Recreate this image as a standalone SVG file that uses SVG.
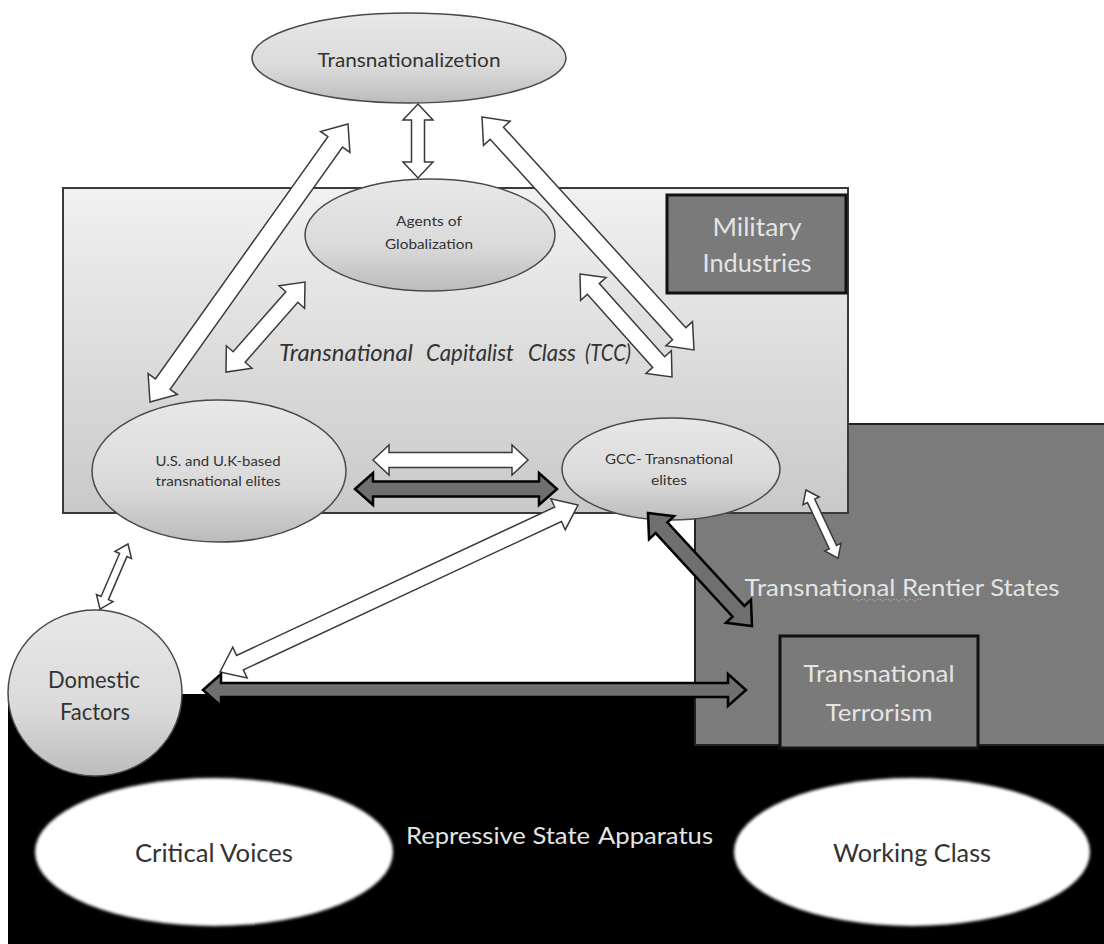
<svg xmlns="http://www.w3.org/2000/svg" width="1104" height="944" viewBox="0 0 1104 944">
<defs>
  <linearGradient id="gEll" x1="0" y1="0" x2="0" y2="1">
    <stop offset="0" stop-color="#e8e8e8"/>
    <stop offset="0.6" stop-color="#dadada"/>
    <stop offset="1" stop-color="#bcbcbc"/>
  </linearGradient>
  <linearGradient id="gBox" x1="0" y1="0" x2="0" y2="1">
    <stop offset="0" stop-color="#f1f1f1"/>
    <stop offset="1" stop-color="#c9c9c9"/>
  </linearGradient>
  <filter id="soft" x="-10%" y="-10%" width="120%" height="120%">
    <feGaussianBlur stdDeviation="1.5"/>
  </filter>
</defs>
<style>
  .ell { fill: url(#gEll); stroke: #4a4a4a; stroke-width: 1.5; }
  .dark { fill: #7a7a7a; stroke: #111; stroke-width: 3; }
  .wa { fill: #ffffff; stroke: #3a3a3a; stroke-width: 1.5; stroke-linejoin: miter; }
  .da { fill: #6f6f6f; stroke: #000; stroke-width: 2.5; stroke-linejoin: miter; }
  .t { font-family: Lato, "Open Sans", sans-serif; text-anchor: middle; }
  .ts { font-family: Lato, "Open Sans", sans-serif; text-anchor: start; }
  .dk { fill: #333; }
  .lt { fill: #e4e4e4; }
</style>

<rect width="1104" height="944" fill="#ffffff"/>

<!-- Repressive State Apparatus region -->
<g id="repressive-state">
  <rect x="8" y="694" width="1096" height="250" fill="#000"/>
  <text class="ts lt" x="406" y="844" font-size="24" textLength="184" lengthAdjust="spacingAndGlyphs">Repressive State</text>
  <text class="ts lt" x="598" y="844" font-size="24" textLength="115" lengthAdjust="spacingAndGlyphs">Apparatus</text>
</g>

<!-- Transnational Rentier States region -->
<g id="rentier-states">
  <rect x="695" y="424" width="411" height="321" fill="#7b7b7b" stroke="#222" stroke-width="2"/>
  <text class="t lt" x="902" y="596" font-size="24" textLength="315" lengthAdjust="spacingAndGlyphs">Transnational Rentier States</text>
  <path d="M853 600 q2 -2 4 0 t4 0 t4 0 t4 0 t4 0 t4 0 t4 0 t4 0 t4 0 t4 0 t4 0 t4 0 t4 0 t4 0 t4 0 t4 0 t4 0" fill="none" stroke="#b8b8c8" stroke-width="1" stroke-dasharray="1.5 1.5"/>
</g>

<!-- Transnational Terrorism -->
<g id="terrorism">
  <rect x="780" y="636" width="198" height="112" class="dark"/>
  <text class="t lt" x="879" y="682" font-size="24" textLength="151" lengthAdjust="spacingAndGlyphs">Transnational</text>
  <text class="t lt" x="879" y="721" font-size="24" textLength="107" lengthAdjust="spacingAndGlyphs">Terrorism</text>
</g>

<!-- TCC box -->
<g id="tcc">
  <rect x="63" y="188" width="785" height="325" fill="url(#gBox)" stroke="#3a3a3a" stroke-width="2"/>
  <text class="ts dk" x="279" y="361" font-size="24" font-style="italic" textLength="134" lengthAdjust="spacingAndGlyphs">Transnational</text>
  <text class="ts dk" x="426" y="361" font-size="24" font-style="italic" textLength="88" lengthAdjust="spacingAndGlyphs">Capitalist</text>
  <text class="ts dk" x="528" y="361" font-size="24" font-style="italic" textLength="48" lengthAdjust="spacingAndGlyphs">Class</text>
  <text class="ts dk" x="585" y="361" font-size="24" font-style="italic" textLength="46" lengthAdjust="spacingAndGlyphs">(TCC)</text>
</g>

<!-- Military Industries -->
<g id="military">
  <rect x="667" y="195" width="179" height="98" class="dark" fill="#767676"/>
  <text class="t lt" x="757" y="236" font-size="25" textLength="89" lengthAdjust="spacingAndGlyphs">Military</text>
  <text class="t lt" x="757" y="272" font-size="25" textLength="109" lengthAdjust="spacingAndGlyphs">Industries</text>
</g>

<!-- Transnationalizetion -->
<g id="transnationalizetion">
  <ellipse cx="409" cy="58" rx="157" ry="45" class="ell"/>
  <text class="t dk" x="409" y="67" font-size="20" textLength="183" lengthAdjust="spacingAndGlyphs">Transnationalizetion</text>
</g>

<!-- Agents of Globalization -->
<g id="agents">
  <ellipse cx="430" cy="235" rx="125" ry="56" class="ell"/>
  <text class="t dk" x="429" y="226" font-size="14" textLength="66" lengthAdjust="spacingAndGlyphs">Agents of</text>
  <text class="t dk" x="429" y="249" font-size="14" textLength="88" lengthAdjust="spacingAndGlyphs">Globalization</text>
</g>

<!-- U.S. and U.K-based transnational elites -->
<g id="us-uk-elites">
  <ellipse cx="219" cy="471" rx="127" ry="71" class="ell"/>
  <text class="t dk" x="218" y="466" font-size="14" textLength="125" lengthAdjust="spacingAndGlyphs">U.S. and U.K-based</text>
  <text class="t dk" x="218" y="486" font-size="14" textLength="125" lengthAdjust="spacingAndGlyphs">transnational elites</text>
</g>

<!-- GCC Transnational elites -->
<g id="gcc-elites">
  <ellipse cx="671" cy="469" rx="109" ry="51" class="ell"/>
  <text class="t dk" x="669" y="464" font-size="13" textLength="128" lengthAdjust="spacingAndGlyphs">GCC- Transnational</text>
  <text class="t dk" x="669" y="485" font-size="13" textLength="36" lengthAdjust="spacingAndGlyphs">elites</text>
</g>

<!-- Domestic Factors -->
<g id="domestic">
  <ellipse cx="95" cy="693" rx="87" ry="83" class="ell"/>
  <text class="t dk" x="94" y="688" font-size="23" textLength="92" lengthAdjust="spacingAndGlyphs">Domestic</text>
  <text class="t dk" x="95" y="720" font-size="23" textLength="70" lengthAdjust="spacingAndGlyphs">Factors</text>
</g>

<!-- Critical Voices -->
<g id="critical-voices">
  <ellipse cx="214" cy="852" rx="179" ry="74" fill="#fff" filter="url(#soft)"/>
  <text class="t dk" x="214" y="862" font-size="25" textLength="158" lengthAdjust="spacingAndGlyphs">Critical Voices</text>
</g>

<!-- Working Class -->
<g id="working-class">
  <ellipse cx="912" cy="852" rx="178" ry="74" fill="#fff" filter="url(#soft)"/>
  <text class="t dk" x="912" y="862" font-size="25" textLength="158" lengthAdjust="spacingAndGlyphs">Working Class</text>
</g>

<!-- Connectors -->
<g id="connectors">
  <polygon class="wa" transform="translate(418,104) rotate(90)" points="0,0 16,-15 16,-6.5 58,-6.5 58,-15 74,0 58,15 58,6.5 16,6.5 16,15"/>
  <polygon class="wa" transform="translate(348,124) rotate(125.46)" points="0,0 22,-18 22,-9 319.3,-9 319.3,-18 341.3,0 319.3,18 319.3,9 22,9 22,18"/>
  <polygon class="wa" transform="translate(305,282) rotate(131.28)" points="0,0 20,-17 20,-8 99.8,-8 99.8,-17 119.8,0 99.8,17 99.8,8 20,8 20,17"/>
  <polygon class="wa" transform="translate(482,117) rotate(47.70)" points="0,0 22,-18 22,-9 293,-9 293,-18 315,0 293,18 293,9 22,9 22,18"/>
  <polygon class="wa" transform="translate(580,274) rotate(48.23)" points="0,0 20,-17 20,-8 118.1,-8 118.1,-17 138.1,0 118.1,17 118.1,8 20,8 20,17"/>
  <polygon class="wa" transform="translate(373,460)" points="0,0 16,-15 16,-7.5 139,-7.5 139,-15 155,0 139,15 139,7.5 16,7.5 16,15"/>
  <polygon class="da" transform="translate(355,489)" points="0,0 18,-16 18,-7.5 184,-7.5 184,-16 202,0 184,16 184,7.5 18,7.5 18,16"/>
  <polygon class="wa" transform="translate(128,544) rotate(113.3)" points="0,0 12,-9 12,-4 58.8,-4 58.8,-9 70.8,0 58.8,9 58.8,4 12,4 12,9"/>
  <polygon class="wa" transform="translate(578,505) rotate(155)" points="0,0 22,-17 22,-8 373,-8 373,-17 395,0 373,17 373,8 22,8 22,17"/>
  <polygon class="da" transform="translate(203,690)" points="0,0 18,-16 18,-7 525,-7 525,-16 543,0 525,16 525,7 18,7 18,16"/>
  <polygon class="da" transform="translate(648,513) rotate(47.38)" points="0,0 20,-17 20,-8 133.6,-8 133.6,-17 153.6,0 133.6,17 133.6,8 20,8 20,17"/>
  <polygon class="wa" transform="translate(806,490) rotate(64.8)" points="0,0 12,-9 12,-4 63.2,-4 63.2,-9 75.2,0 63.2,9 63.2,4 12,4 12,9"/>
</g>
</svg>
